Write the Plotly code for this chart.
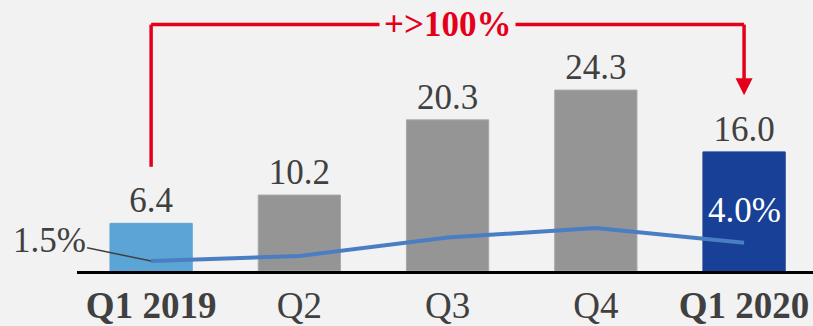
import plotly.graph_objects as go

# Quarterly figures
quarters = ["Q1 2019", "Q2", "Q3", "Q4", "Q1 2020"]
tick_labels = ["<b>Q1 2019</b>", "Q2", "Q3", "Q4", "<b>Q1 2020</b>"]
volumes = [6.4, 10.2, 20.3, 24.3, 16.0]
share_pct = [1.5, 2.2, 4.7, 6.0, 4.0]
growth_label = "+&gt;100%"

BG = "#F2F2F2"
TEXT = "#404040"
RED = "#E4001B"
bar_colors = ["#5BA5D6", "#959595", "#959595", "#959595", "#184096"]
bar_edges = ["#5BA5D6", "#A8A8A8", "#A8A8A8", "#A8A8A8", "#184096"]
SERIF = "Liberation Serif, Times New Roman, serif"

x_idx = list(range(len(quarters)))

fig = go.Figure()

fig.add_trace(go.Bar(
    x=x_idx, y=volumes,
    width=0.555,
    marker=dict(color=bar_colors, line=dict(color=bar_edges, width=1)),
    text=[f"{v:.1f}" for v in volumes],
    textposition="outside",
    textfont=dict(family=SERIF, size=35, color=TEXT),
    cliponaxis=False,
    hoverinfo="skip",
))

fig.add_trace(go.Scatter(
    x=x_idx, y=share_pct,
    yaxis="y2",
    mode="lines",
    line=dict(color="#4A7EC3", width=4),
    hoverinfo="skip",
    cliponaxis=False,
))

# Share labels: first point with a leader line, last point inside the bar
fig.add_annotation(
    x=x_idx[0], y=share_pct[0], xref="x", yref="y2",
    text=f"{share_pct[0]:.1f}%",
    showarrow=True, arrowhead=0, arrowwidth=1.5, arrowcolor=TEXT,
    ax=-102, ay=-21,
    font=dict(family=SERIF, size=35, color=TEXT),
)
fig.add_annotation(
    x=x_idx[-1], y=share_pct[-1], xref="x", yref="y2",
    text=f"{share_pct[-1]:.1f}%",
    showarrow=False, yshift=32,
    font=dict(family=SERIF, size=35, color="white"),
)

# Growth bracket from the first to the last quarter
top_y = 33.1
left_bottom = volumes[0] + 7.6
arrow_tip = volumes[-1] + 7.6
red_line = dict(color=RED, width=3.5)
fig.add_shape(type="line", xref="x", yref="y", x0=0, x1=0,
              y0=left_bottom, y1=top_y, line=red_line)
fig.add_shape(type="line", xref="x", yref="y", x0=0, x1=4,
              y0=top_y, y1=top_y, line=red_line)
fig.add_shape(type="line", xref="x", yref="y", x0=4, x1=4,
              y0=top_y, y1=arrow_tip + 2.2, line=red_line)
fig.add_shape(type="path", xref="x", yref="y",
              xsizemode="pixel", ysizemode="pixel",
              xanchor=4, yanchor=arrow_tip,
              path="M -8.5,17 L 8.5,17 L 0,0 Z",
              fillcolor=RED, line=dict(width=0))
fig.add_annotation(
    x=2, y=top_y, xref="x", yref="y",
    text=f"<b>{growth_label}</b>", showarrow=False,
    bgcolor=BG, borderpad=4, yshift=0,
    font=dict(family=SERIF, size=35, color=RED),
)

fig.update_layout(
    width=813, height=326,
    margin=dict(l=77, r=0, t=0, b=55),
    paper_bgcolor=BG, plot_bgcolor=BG,
    showlegend=False,
    xaxis=dict(
        range=[-0.5, 4.465],
        tickvals=x_idx, ticktext=tick_labels,
        tickfont=dict(family=SERIF, size=37, color=TEXT),
        showline=True, linecolor="black", linewidth=3,
        showgrid=False, zeroline=False, ticks="",
    ),
    yaxis=dict(range=[0, 36.4], visible=False, fixedrange=True),
    yaxis2=dict(range=[0.137, 37.16], overlaying="y", visible=False),
)

fig.write_html("out.html")
